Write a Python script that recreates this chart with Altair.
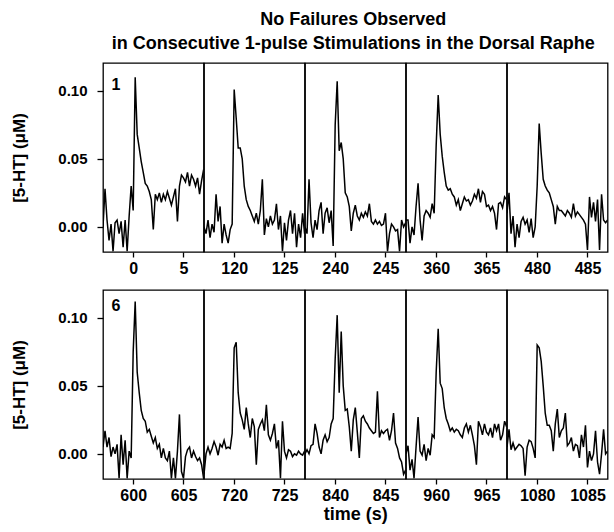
import altair as alt
import pandas as pd

FONT = "Liberation Sans"

title_lines = ["No Failures Observed",
               "in Consecutive 1-pulse Stimulations in the Dorsal Raphe"]
y_title = "[5-HT] (\u03bcM)"
x_title = "time (s)"

# relative sample times (s) within each 10-s window around a stimulation
t_rel = [-3.0, -2.8, -2.6, -2.4, -2.2, -2.0, -1.8, -1.6, -1.4, -1.2,
         -1.0, -0.8, -0.6, -0.4, -0.2, 0.0, 0.2, 0.4, 0.6, 0.8,
         1.0, 1.2, 1.4, 1.6, 1.8, 2.0, 2.2, 2.4, 2.6, 2.8,
         3.0, 3.2, 3.4, 3.6, 3.8, 4.0, 4.2, 4.4, 4.6, 4.8,
         5.0, 5.2, 5.4, 5.6, 5.8, 6.0, 6.2, 6.4, 6.6, 6.8,
         7.0]

# stimulation times (s)
stim_times = [0, 120, 240, 360, 480, 600, 720, 840, 960, 1080]
panel_numbers = ["1", "", "", "", "", "6", "", "", "", ""]
y_ticks = [0.0, 0.05, 0.10]

trace_0 = [0.000, 0.028, 0.005, -0.010, 0.002, -0.018, 0.003, 0.005, -0.005, 0.004,
           -0.015, 0.005, -0.018, 0.008, 0.030, 0.012, 0.110, 0.068, 0.058, 0.048,
           0.040, 0.032, 0.030, 0.026, 0.020, -0.002, 0.024, 0.020, 0.025, 0.018,
           0.024, 0.020, 0.026, 0.021, 0.016, 0.022, 0.028, 0.004, 0.030, 0.038,
           0.036, 0.033, 0.040, 0.030, 0.038, 0.035, 0.030, 0.036, 0.024, 0.034,
           0.042]
trace_120 = [0.000, -0.005, 0.005, -0.008, 0.002, -0.004, 0.024, 0.004, 0.015, -0.012,
             0.002, -0.006, -0.012, -0.002, 0.002, 0.101, 0.080, 0.058, 0.058, 0.050,
             0.030, 0.020, 0.015, 0.012, 0.008, 0.004, 0.010, 0.002, 0.012, 0.035,
             -0.006, 0.006, 0.000, 0.008, 0.002, 0.005, 0.017, -0.002, 0.008, -0.018,
             0.003, -0.010, 0.005, 0.012, -0.005, 0.010, -0.015, 0.002, -0.008, 0.010,
             -0.005]
trace_240 = [0.000, -0.005, 0.035, 0.003, -0.008, 0.005, -0.002, 0.012, 0.018, -0.005,
             0.010, 0.014, 0.003, 0.012, -0.014, 0.075, 0.107, 0.056, 0.062, 0.050,
             0.025, 0.022, 0.015, -0.003, 0.010, 0.016, 0.008, 0.005, 0.010, 0.007,
             0.011, 0.008, 0.017, 0.004, 0.002, 0.005, 0.002, 0.004, 0.001, 0.002,
             0.010, -0.018, -0.005, 0.002, 0.000, -0.003, -0.002, -0.018, 0.005, 0.000,
             0.003]
trace_360 = [0.005, 0.005, -0.012, 0.000, -0.006, 0.015, 0.032, 0.005, -0.010, 0.008,
             0.012, 0.010, 0.007, 0.017, 0.010, 0.060, 0.097, 0.068, 0.052, 0.040,
             0.030, 0.027, 0.028, 0.024, 0.022, 0.016, 0.020, 0.012, 0.017, 0.022,
             0.019, 0.020, 0.016, 0.019, 0.024, 0.021, 0.028, 0.018, 0.026, 0.024,
             0.015, 0.016, 0.012, 0.015, 0.010, -0.002, 0.017, 0.018, 0.014, 0.022,
             0.020]
trace_480 = [0.010, 0.025, -0.005, 0.008, -0.015, 0.002, -0.008, 0.004, 0.007, 0.002,
             0.005, -0.004, 0.006, -0.008, 0.000, 0.030, 0.076, 0.054, 0.035, 0.030,
             0.027, 0.025, 0.020, 0.015, 0.002, 0.015, 0.012, 0.012, 0.010, 0.008,
             0.012, 0.010, 0.007, 0.017, 0.008, 0.011, 0.009, 0.007, 0.005, 0.002,
             -0.017, 0.022, 0.007, 0.018, 0.004, 0.020, -0.017, 0.024, 0.005, 0.003,
             0.005]
trace_600 = [0.005, 0.017, 0.005, 0.012, -0.002, 0.005, 0.000, 0.007, -0.018, 0.014,
             -0.008, 0.010, -0.018, 0.002, -0.003, 0.075, 0.112, 0.060, 0.045, 0.032,
             0.026, 0.024, 0.016, 0.018, 0.013, 0.008, 0.012, 0.004, 0.007, -0.003,
             0.004, -0.003, -0.005, 0.002, -0.018, -0.003, -0.018, 0.002, 0.029, -0.013,
             -0.018, -0.002, 0.003, 0.005, -0.003, 0.002, -0.002, -0.005, -0.003, -0.008,
             -0.018]
trace_720 = [-0.015, 0.000, 0.005, 0.000, 0.004, 0.009, 0.005, -0.001, 0.007, 0.005,
             0.010, 0.004, 0.005, 0.004, 0.015, 0.078, 0.082, 0.045, 0.030, 0.025,
             0.018, 0.034, 0.022, 0.012, 0.026, 0.020, -0.008, 0.018, 0.022, 0.025,
             0.017, 0.036, 0.014, 0.010, 0.015, 0.022, 0.004, 0.010, -0.018, 0.024,
             0.002, -0.003, 0.003, 0.002, -0.002, 0.000, -0.001, 0.002, 0.000, -0.001,
             0.002]
trace_840 = [0.000, 0.003, 0.000, 0.006, 0.007, 0.022, 0.015, 0.005, 0.000, 0.010,
             0.014, 0.009, 0.012, 0.022, 0.026, 0.070, 0.102, 0.045, 0.090, 0.050,
             0.032, 0.033, 0.020, 0.002, 0.025, 0.034, 0.016, -0.003, 0.026, 0.028,
             0.024, 0.022, 0.019, 0.017, 0.015, 0.016, 0.046, 0.012, 0.017, 0.015,
             0.017, 0.018, 0.010, 0.017, 0.030, 0.008, 0.004, -0.003, -0.006, -0.015,
             -0.012]
trace_960 = [0.000, 0.006, -0.012, -0.004, -0.018, 0.005, 0.027, 0.002, -0.001, 0.007,
             -0.005, 0.004, -0.001, 0.014, 0.012, 0.060, 0.092, 0.052, 0.048, 0.034,
             0.026, 0.022, 0.017, 0.019, 0.016, 0.018, 0.017, 0.014, 0.012, 0.019,
             0.022, 0.016, 0.021, 0.014, 0.006, -0.008, 0.024, 0.020, 0.014, 0.022,
             0.016, 0.014, 0.019, 0.012, 0.022, 0.017, 0.022, 0.010, 0.014, 0.024,
             0.020]
trace_1080 = [0.005, 0.018, 0.003, 0.008, 0.003, 0.005, 0.007, 0.006, 0.004, -0.016,
              0.005, 0.010, 0.009, 0.004, -0.003, 0.080, 0.078, 0.068, 0.050, 0.030,
              0.021, 0.021, 0.017, 0.002, 0.022, 0.033, 0.012, 0.017, 0.019, 0.030,
              0.006, 0.008, 0.012, 0.002, 0.007, 0.006, -0.003, 0.014, 0.005, 0.021,
              -0.010, 0.002, -0.005, 0.000, 0.017, -0.006, -0.015, 0.000, 0.018, 0.000,
              0.002]

traces = [trace_0, trace_120, trace_240, trace_360, trace_480,
          trace_600, trace_720, trace_840, trace_960, trace_1080]

Y_DOMAIN = [-0.0185, 0.1205]
PANEL_W = 100.6
PANEL_H = 189


def panel(idx):
    start = stim_times[idx]
    df = pd.DataFrame({"time": [round(start + t, 2) for t in t_rel],
                       "conc": traces[idx]})
    first_col = idx % 5 == 0
    x_axis = alt.Axis(values=[start, start + 5], format="d",
                      title=x_title if idx == 7 else None,
                      tickSize=5, labelPadding=3, titlePadding=2,
                      labelFontSize=16, titleFontSize=18)
    if first_col:
        y_enc = alt.Y("conc:Q", scale=alt.Scale(domain=Y_DOMAIN, nice=False, zero=False),
                      axis=alt.Axis(values=y_ticks, format=".2f", title=y_title,
                                    tickSize=6, labelPadding=10, titlePadding=29,
                                    labelFontSize=15, titleFontSize=17))
    else:
        y_enc = alt.Y("conc:Q", scale=alt.Scale(domain=Y_DOMAIN, nice=False, zero=False),
                      axis=None)
    line = alt.Chart(df).mark_line(color="black", strokeWidth=1.5, clip=True).encode(
        x=alt.X("time:Q", scale=alt.Scale(domain=[start - 3, start + 7], nice=False, zero=False),
                axis=x_axis),
        y=y_enc,
    )
    if panel_numbers[idx]:
        lab = alt.Chart(pd.DataFrame({"lab": [panel_numbers[idx]]})).mark_text(
            font=FONT, fontSize=16, fontWeight="bold", color="black", align="center",
            baseline="middle").encode(
            x=alt.value(13), y=alt.value(22 if idx == 0 else 16), text="lab:N")
        ch = alt.layer(line, lab)
    else:
        ch = line
    return ch.properties(width=PANEL_W, height=PANEL_H)


row1 = alt.hconcat(*[panel(i) for i in range(5)], spacing=0, bounds="flush")
row2 = alt.hconcat(*[panel(i) for i in range(5, 10)], spacing=0, bounds="flush")

chart = alt.vconcat(row1, row2, spacing=12).properties(
    title=alt.TitleParams(text=title_lines, font=FONT, fontSize=18, fontWeight="bold",
                          anchor="middle", lineHeight=24, color="black", offset=9, dx=44),
    padding={"left": 10, "right": 5, "top": 11, "bottom": 5},
).configure_view(stroke="black", strokeWidth=1.3).configure_axis(
    labelFont=FONT, labelFontWeight="bold", labelColor="black",
    titleFont=FONT, titleFontWeight="bold", titleColor="black",
    tickColor="black", tickWidth=1.3, domain=False, grid=False,
)

chart.save("out.html", embed_options={"renderer": "svg", "actions": False})
